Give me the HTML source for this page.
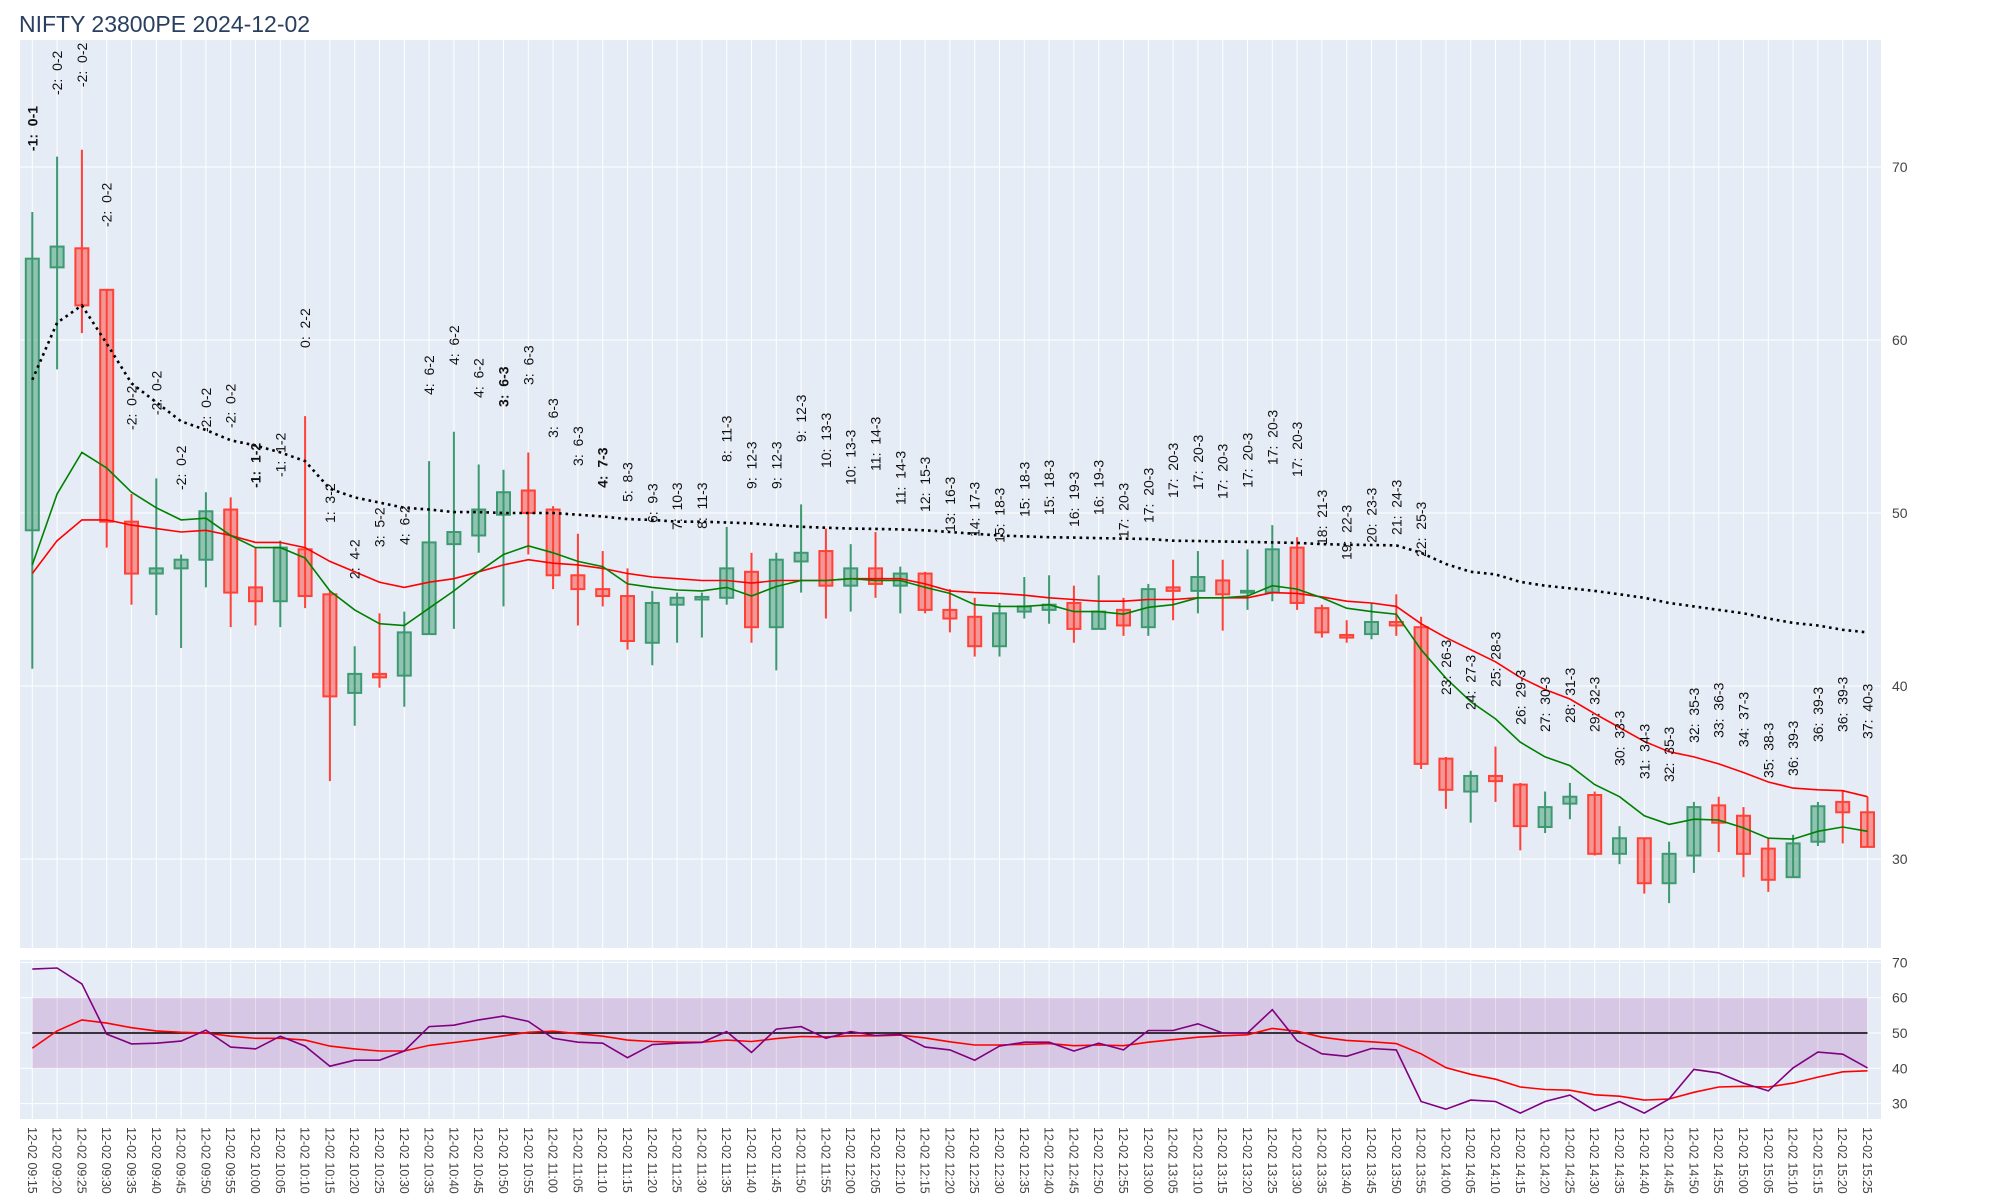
<!DOCTYPE html>
<html><head><meta charset="utf-8"><style>
html,body{margin:0;padding:0;background:#fff;}
svg{display:block;font-family:"Liberation Sans",Arial,sans-serif;}
#annots text{white-space:pre;}
</style></head><body>
<svg id="chart" width="2000" height="1200" viewBox="0 0 2000 1200" xmlns="http://www.w3.org/2000/svg">
<text x="19" y="32" font-size="23" fill="#2a3f5f">NIFTY 23800PE 2024-12-02</text>
<rect x="20" y="40" width="1861" height="908" fill="#e5ecf6"/>
<rect x="20" y="960" width="1861" height="159" fill="#e5ecf6"/>
<g id="grid"></g>
<g id="band"></g>
<g id="candles"></g>
<g id="lines"></g>
<g id="annots"></g>
<g id="axes"></g>
</svg>
<script>
const times = [];
for (let m = 9*60+15; m <= 15*60+25; m += 5) { times.push('12-02 ' + String(Math.floor(m/60)).padStart(2,'0') + ':' + String(m%60).padStart(2,'0')); }
const opens = [49,64.2,65.3,62.9,49.5,46.5,46.8,47.3,50.2,45.7,44.9,47.9,45.3,39.6,40.7,40.6,43.0,48.2,48.7,49.9,51.3,50.2,46.4,45.6,45.2,42.5,44.7,45.0,45.1,46.6,43.4,47.2,47.8,45.8,46.8,45.8,46.5,44.4,44.0,42.3,44.3,44.4,44.8,43.3,44.4,43.4,45.7,45.5,46.1,45.4,45.4,48.0,44.5,42.95,43.0,43.7,43.4,35.8,33.9,34.8,34.3,31.85,33.2,33.7,30.3,31.2,28.6,30.2,33.1,32.5,30.6,28.95,31.0,33.3,32.7];
const highs = [67.4,70.6,71,62.9,51.1,52.0,47.6,51.2,50.9,48.0,48.4,55.6,45.5,42.3,44.2,44.3,53.0,54.7,52.8,52.5,53.5,50.4,48.8,47.8,46.8,45.5,45.4,45.4,49.2,47.7,47.7,50.5,49.1,48.2,48.9,46.9,46.6,45.6,45.1,44.8,46.3,46.4,45.8,46.4,45.1,45.9,47.3,47.8,47.3,47.9,49.3,48.6,44.7,43.8,44.8,45.3,44.0,35.9,35.1,36.5,34.4,33.9,34.4,33.9,31.9,31.2,31.0,33.3,33.6,33.0,31.2,31.4,33.3,33.9,33.6];
const lows = [41,58.3,60.4,48.0,44.7,44.1,42.2,45.7,43.4,43.5,43.4,44.5,34.5,37.7,39.9,38.8,43.0,43.3,47.7,44.6,47.6,45.6,43.5,44.6,42.1,41.2,42.5,42.8,44.7,42.5,40.9,45.4,43.9,44.3,45.1,44.2,44.2,43.1,41.7,41.7,43.9,43.6,42.5,43.3,42.9,42.9,43.8,44.2,43.2,44.4,44.9,44.4,42.8,42.5,42.7,42.9,35.2,32.9,32.1,33.3,30.5,31.5,32.3,30.2,29.7,28.0,27.45,29.2,30.4,28.95,28.1,28.95,30.75,30.9,30.7];
const closes = [64.7,65.4,62.0,49.5,46.5,46.8,47.3,50.1,45.4,44.9,48.0,45.2,39.4,40.7,40.5,43.1,48.3,48.9,50.2,51.2,50.0,46.4,45.6,45.2,42.6,44.8,45.1,45.15,46.8,43.4,47.3,47.7,45.8,46.8,45.9,46.5,44.4,43.9,42.3,44.2,44.6,44.7,43.3,44.3,43.5,45.6,45.5,46.3,45.3,45.5,47.9,44.8,43.1,42.8,43.7,43.5,35.5,34.0,34.8,34.5,31.9,33.0,33.6,30.3,31.2,28.6,30.3,33.0,32.1,30.3,28.8,30.9,33.05,32.7,30.7];
const fastMA = [47.0,51.1,53.5,52.6,51.2,50.3,49.6,49.7,48.7,48.0,48.0,47.4,45.5,44.4,43.6,43.5,44.5,45.5,46.6,47.6,48.1,47.7,47.2,46.9,45.9,45.7,45.55,45.5,45.7,45.2,45.75,46.1,46.1,46.2,46.1,46.1,45.7,45.35,44.7,44.6,44.6,44.7,44.3,44.3,44.15,44.55,44.7,45.1,45.1,45.2,45.8,45.6,45.1,44.5,44.3,44.15,42.1,40.45,39.1,38.1,36.75,35.9,35.4,34.3,33.6,32.5,32.0,32.3,32.25,31.8,31.2,31.15,31.6,31.85,31.6];
const slowMA = [46.5,48.4,49.6,49.6,49.3,49.1,48.9,49.0,48.7,48.3,48.3,48.0,47.2,46.6,46.0,45.7,46.0,46.2,46.6,47.0,47.3,47.1,47.0,46.8,46.5,46.3,46.2,46.1,46.1,45.95,46.1,46.1,46.1,46.2,46.2,46.2,45.9,45.5,45.4,45.35,45.25,45.1,45.0,44.9,44.9,45.0,45.0,45.1,45.1,45.1,45.4,45.35,45.15,44.9,44.8,44.6,43.6,42.8,42.1,41.4,40.5,39.8,39.25,38.4,37.6,36.8,36.2,35.9,35.5,35.0,34.45,34.1,34.0,33.95,33.6];
const longMA = [57.7,61.0,62.0,59.8,57.5,56.4,55.3,54.8,54.2,53.9,53.5,53.0,51.4,50.9,50.6,50.3,50.2,50.05,50.05,50.0,50.0,50.0,49.9,49.8,49.65,49.6,49.5,49.5,49.45,49.4,49.3,49.2,49.15,49.1,49.08,49.05,49.0,48.9,48.8,48.7,48.65,48.6,48.58,48.55,48.52,48.5,48.4,48.38,48.35,48.33,48.3,48.27,48.2,48.17,48.15,48.13,47.7,47.05,46.6,46.45,46.02,45.8,45.65,45.5,45.3,45.1,44.8,44.6,44.4,44.2,43.9,43.65,43.5,43.25,43.1];
const annotTexts = ['-1:  0-1','-2:  0-2','-2:  0-2','-2:  0-2','-2:  0-2','-2:  0-2','-2:  0-2','-2:  0-2','-2:  0-2','-1:  1-2','-1:  1-2','0:  2-2','1:  3-2','2:  4-2','3:  5-2','4:  6-2','4:  6-2','4:  6-2','4:  6-2','3:  6-3','3:  6-3','3:  6-3','3:  6-3','4:  7-3','5:  8-3','6:  9-3','7:  10-3','8:  11-3','8:  11-3','9:  12-3','9:  12-3','9:  12-3','10:  13-3','10:  13-3','11:  14-3','11:  14-3','12:  15-3','13:  16-3','14:  17-3','15:  18-3','15:  18-3','15:  18-3','16:  19-3','16:  19-3','17:  20-3','17:  20-3','17:  20-3','17:  20-3','17:  20-3','17:  20-3','17:  20-3','17:  20-3','18:  21-3','19:  22-3','20:  23-3','21:  24-3','22:  25-3','23:  26-3','24:  27-3','25:  28-3','26:  29-3','27:  30-3','28:  31-3','29:  32-3','30:  33-3','31:  34-3','32:  35-3','32:  35-3','33:  36-3','34:  37-3','35:  38-3','36:  39-3','36:  39-3','36:  39-3','37:  40-3'];
const annotLevels = [70.92,74.16,74.62,66.53,54.8,55.66,51.33,54.68,54.91,51.45,52.08,59.54,49.42,46.18,48.03,48.15,56.82,58.55,56.65,56.13,57.4,54.34,52.72,51.45,50.64,49.42,49.02,49.08,52.95,51.39,51.39,54.1,52.6,51.62,52.43,50.46,50.06,48.9,48.61,48.27,49.77,49.88,49.19,49.88,48.55,49.42,50.87,51.33,50.81,51.45,52.77,52.08,48.15,47.28,48.27,48.73,47.46,39.48,38.61,39.94,37.75,37.34,37.86,37.34,35.38,34.62,34.45,36.71,37.0,36.47,34.68,34.8,36.76,37.34,36.94];
const annotBold = [0,9,19,23];
const rsiValues = [68.1,68.4,63.9,49.7,46.9,47.1,47.7,50.8,46.0,45.5,49.1,46.3,40.6,42.3,42.3,44.9,51.8,52.2,53.7,54.8,53.3,48.5,47.4,47.1,43.0,46.7,47.1,47.3,50.4,44.5,51.1,51.8,48.5,50.4,49.3,49.6,46.0,45.2,42.3,46.3,47.4,47.4,44.9,47.1,45.2,50.7,50.7,52.6,50.0,50.0,56.6,47.8,44.1,43.4,45.6,45.2,30.6,28.4,31.0,30.6,27.3,30.6,32.4,28.0,30.6,27.3,31.3,39.7,38.7,35.8,33.6,40.1,44.6,44.0,40.1];
const rsiMA = [45.7,50.6,53.7,52.8,51.5,50.6,50.2,50.0,49.1,48.5,48.5,48.0,46.3,45.5,44.9,44.9,46.5,47.3,48.2,49.2,50.2,50.5,49.8,49.1,48.0,47.6,47.4,47.4,48.0,47.6,48.4,49.0,48.9,49.2,49.2,49.4,48.6,47.5,46.6,46.6,46.8,47.0,46.4,46.6,46.4,47.4,48.1,48.8,49.2,49.5,51.3,50.5,48.8,47.9,47.5,47.0,44.1,40.2,38.3,36.9,34.7,34.0,33.8,32.5,32.1,31.0,31.3,33.2,34.7,34.9,34.7,35.8,37.5,39.0,39.3];
const priceTicks = [30,40,50,60,70];
const rsiTicks = [30,40,50,60,70];
const rsiBand = [40,60];
const rsiMid = 50;

const NS = 'http://www.w3.org/2000/svg';
const X0 = 32.3, DX = 24.8;
function xPos(i){ return X0 + DX*i; }
function yPrice(p){ return 167 + (70 - p)*17.3; }
function yRsi(v){ return 1033 - (v - 50)*3.53; }
function mk(tag, attrs, parent){ const e = document.createElementNS(NS, tag); for (const k in attrs) e.setAttribute(k, attrs[k]); parent.appendChild(e); return e; }
const grid = document.getElementById('grid'), band = document.getElementById('band'), cg = document.getElementById('candles'), lg = document.getElementById('lines'), ag = document.getElementById('annots'), ax = document.getElementById('axes');

times.forEach((t,i)=>{
  const x = xPos(i);
  const g1 = mk('line',{x1:x,x2:x,y1:40,y2:948,stroke:'#fff','stroke-width':1},grid);
  
  
  const g2 = mk('line',{x1:x,x2:x,y1:960,y2:1119,stroke:'#fff','stroke-width':1},grid);
  
  
  const tl = mk('text',{transform:`translate(${x-4.5},1127) rotate(90)`,'font-size':12.5,fill:'#444'},ax);
  tl.textContent = t;
  
  
});
priceTicks.forEach(v=>{
  const y = yPrice(v);
  const gl = mk('line',{x1:20,x2:1881,y1:y,y2:y,stroke:'#fff','stroke-width':1},grid);
  
  
  const tl = mk('text',{x:1892,y:y+5,'font-size':14,fill:'#444'},ax);
  tl.textContent = v;
  
  
});
rsiTicks.forEach(v=>{
  const y = yRsi(v);
  const gl = mk('line',{x1:20,x2:1881,y1:y,y2:y,stroke:'#fff','stroke-width':1},grid);
  
  
  const tl = mk('text',{x:1892,y:y+5,'font-size':14,fill:'#444'},ax);
  tl.textContent = v;
  
  
});
const bandRect = mk('rect',{x:xPos(0),y:yRsi(rsiBand[1]),width:xPos(times.length-1)-xPos(0),height:yRsi(rsiBand[0])-yRsi(rsiBand[1]),fill:'rgba(128,0,128,0.15)'},band);


const midLine = mk('line',{x1:xPos(0),x2:xPos(times.length-1),y1:yRsi(rsiMid),y2:yRsi(rsiMid),stroke:'#000','stroke-width':1.5},band);



opens.forEach((o,i)=>{
  const c = closes[i], up = c >= o, x = xPos(i);
  const col = up ? '#3d9970' : '#ff4136', fill = up ? 'rgba(61,153,112,0.5)' : 'rgba(255,65,54,0.5)';
  const w = mk('line',{x1:x,x2:x,y1:yPrice(highs[i]),y2:yPrice(lows[i]),stroke:col,'stroke-width':2},cg);
  
  
  const top = yPrice(Math.max(o,c)), bot = yPrice(Math.min(o,c));
  const b = mk('rect',{x:x-6.5,y:top,width:13,height:Math.max(bot-top,1.5),fill:fill,stroke:col,'stroke-width':2},cg);
  
  
});
function poly(vals, yf, attrs, name){
  const pts = vals.map((v,i)=>xPos(i).toFixed(1)+','+yf(v).toFixed(1)).join(' ');
  const p = mk('polyline',Object.assign({points:pts,fill:'none'},attrs),lg);
  
  
}
poly(slowMA,yPrice,{stroke:'red','stroke-width':1.6},'slow-ma-line');
poly(fastMA,yPrice,{stroke:'green','stroke-width':1.6},'fast-ma-line');
poly(longMA,yPrice,{stroke:'#000','stroke-width':2.6,'stroke-dasharray':'2.6,4'},'long-ma-dotted-line');
poly(rsiMA,yRsi,{stroke:'red','stroke-width':1.6},'rsi-ma-line');
poly(rsiValues,yRsi,{stroke:'purple','stroke-width':1.6},'rsi-line');

annotTexts.forEach((t,i)=>{
  const x = xPos(i)+5, y = yPrice(annotLevels[i]);
  const bold = annotBold.includes(i);
  const a = mk('text',{transform:`translate(${x},${y}) rotate(-90)`,'font-size':14,fill:'#111','font-weight':bold?'bold':'normal',style:'white-space:pre'},ag);
  a.textContent = t;
  
  
});
</script>
</body></html>
